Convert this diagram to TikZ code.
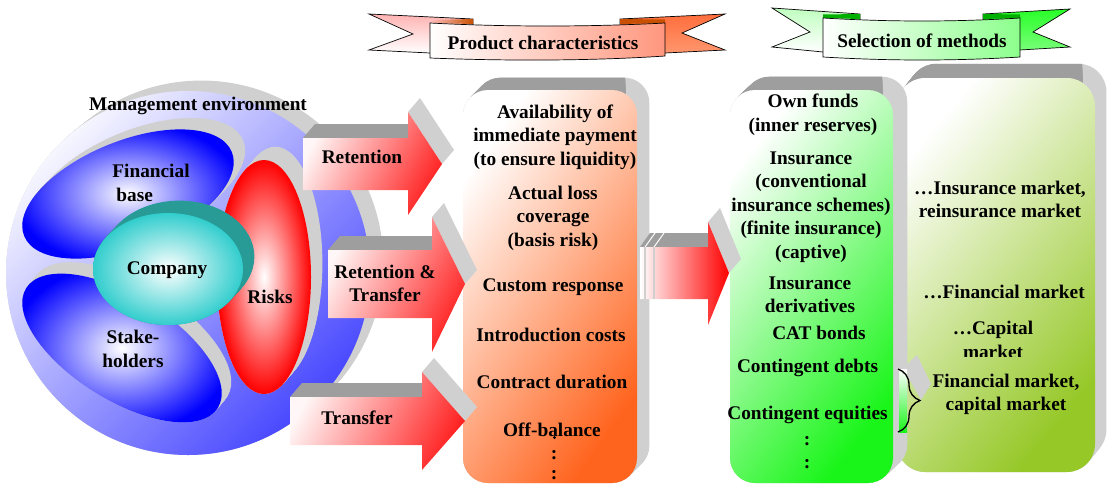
\documentclass[tikz,border=0pt]{standalone}
\usepackage{fontspec}
\setmainfont{Liberation Serif}
\usetikzlibrary{decorations.pathreplacing}
\definecolor{shd}{RGB}{208,208,208}
\definecolor{shdk}{RGB}{158,158,158}
\definecolor{cblue}{RGB}{72,72,255}
\definecolor{cteal}{RGB}{50,205,205}
\definecolor{cteald}{RGB}{40,155,150}
\definecolor{corange}{RGB}{255,100,30}
\definecolor{cgreen}{RGB}{25,245,25}
\definecolor{colive}{RGB}{150,200,40}
\definecolor{darkor}{RGB}{200,80,0}
\definecolor{darkgr}{RGB}{0,175,0}
\definecolor{cred}{RGB}{255,35,35}
% 3D arrow: L, M, T, body top, body bottom, tip y, head top, head bottom
\newcommand{\tdarrow}[8]{%
  \fill[shdk] (#1,#4) -- ({#1+12},{#4-14}) -- ({#2+12},{#4-14}) -- (#2,#4) -- cycle;
  \fill[shd] (#2,#7) -- ({#2+12},{#7-14}) -- ({#3+12},{#6-14}) -- (#3,#6) -- cycle;
  \shade[arrowfill] (#1,#4) -- (#2,#4) -- (#2,#7) -- (#3,#6) -- (#2,#8) -- (#2,#5) -- (#1,#5) -- cycle;}
\begin{document}
\begin{tikzpicture}[x=1pt,y=-1pt,
  txt/.style={font=\fontsize{19.3}{23.5}\selectfont\bfseries, align=center, inner sep=0pt, text=black},
  arrowfill/.style={top color=red!3, bottom color=cred, shading angle=62},
  ribbon/.style={draw=black, line width=0.7pt}]
\useasboundingbox (0,0) rectangle (1107,485);

% ---------- big circle ----------
\foreach \t in {0,0.05,...,1}
  \fill[shd] ({188+14*\t},{273-11*\t}) circle [radius=182pt];
\shade[top color={rgb,255:red,246;green,246;blue,255}, bottom color=cblue, shading angle=45]
  (188,273) circle [radius=182pt];

% ---------- financial base ----------
\foreach \t in {0,0.05,...,1}
  \fill[shd, shift={({128+12*\t},{194-12*\t})}, rotate=22] (0,0) ellipse [x radius=112pt, y radius=53pt];
\shade[inner color=white, outer color=blue, shift={(128,194)}, rotate=22] (0,0) ellipse [x radius=112pt, y radius=53pt];

% ---------- stakeholders ----------
\foreach \t in {0,0.05,...,1}
  \fill[shd, shift={({122+10*\t},{348-12*\t})}, rotate=-32] (0,0) ellipse [x radius=113pt, y radius=52pt];
\shade[inner color=white, outer color=blue, shift={(122,348)}, rotate=-32] (0,0) ellipse [x radius=113pt, y radius=52pt];

% ---------- risks ----------
\foreach \t in {0,0.05,...,1}
  \fill[shd] ({264+12*\t},{277-14*\t}) ellipse [x radius=47pt, y radius=117pt];
\shade[inner color=white, outer color=red] (264,277) ellipse [x radius=47pt, y radius=117pt];

% ---------- company ----------
\foreach \t in {0,0.05,...,1}
  \fill[cteald] ({168+12*\t},{269-13*\t}) ellipse [x radius=75pt, y radius=56pt];
\shade[inner color=white, outer color=cteal] (168,269) ellipse [x radius=75pt, y radius=56pt];

\node[txt] (menv) at (198,106) {Management environment};
\node[txt, align=left] (fbase) at (151,183) {Financial\\\hspace*{4pt}base};
\node[txt] (comp) at (167,270) {Company};
\node[txt] (risks) at (270,297) {Risks};
\node[txt] (stake) at (133,349) {Stake-\\holders};

% ---------- box 3 ----------
\foreach \t in {0,0.05,...,1}
  \fill[shd, rounded corners=28pt] ({897+12*\t},{78-15*\t}) rectangle ({1095+12*\t},{472-15*\t});
\begin{scope}
  \clip (880,55) rectangle (1082,84);
  \foreach \t in {0,0.05,...,1}
    \fill[shdk, rounded corners=28pt] ({897+12*\t},{78-15*\t}) rectangle ({1095+12*\t},{472-15*\t});
\end{scope}
\shade[rounded corners=28pt, top color=white, bottom color=colive, shading angle=50] (897,78) rectangle (1095,472);

% ---------- box 2 ----------
\foreach \t in {0,0.05,...,1}
  \fill[shd, rounded corners=25pt] ({730+15*\t},{90-14*\t}) rectangle ({893+15*\t},{483-14*\t});
\begin{scope}
  \clip (720,68) rectangle (882,96);
  \foreach \t in {0,0.05,...,1}
    \fill[shdk, rounded corners=25pt] ({730+15*\t},{90-14*\t}) rectangle ({893+15*\t},{483-14*\t});
\end{scope}
\shade[rounded corners=25pt, top color=white, bottom color=cgreen, shading angle=52] (730,90) rectangle (893,483);

% ---------- box 1 ----------
\foreach \t in {0,0.05,...,1}
  \fill[shd, rounded corners=25pt] ({463+13*\t},{90-13*\t}) rectangle ({637+13*\t},{483-13*\t});
\begin{scope}
  \clip (450,68) rectangle (625,96);
  \foreach \t in {0,0.05,...,1}
    \fill[shdk, rounded corners=25pt] ({463+13*\t},{90-13*\t}) rectangle ({637+13*\t},{483-13*\t});
\end{scope}
\shade[rounded corners=25pt, top color=white, bottom color=corange, shading angle=55] (463,90) rectangle (637,483);

% ---------- left arrows ----------
\tdarrow{303}{408}{442}{138}{190}{164}{112}{215}
\tdarrow{328}{432}{465}{250}{318}{284}{217}{352}
\tdarrow{290}{422}{465}{397}{445}{421}{372}{470}
\node[txt] (ret) at (362,157) {Retention};
\node[txt] (rt) at (385,283.5) {Retention \&\\Transfer};
\node[txt] (tr) at (357,418) {Transfer};

% ---------- middle arrow ----------
\fill[shdk] (640,247) -- (650,233) -- (718,233) -- (708,247) -- cycle;
\draw[white, line width=1pt] (645,247) -- (655,233) (654,247) -- (664,233);
\fill[shd] (708,222) -- (720,208) -- (741,259) -- (729,273) -- cycle;
\shade[left color=white, right color=red] (640,247) -- (708,247) -- (708,222) -- (729,273) -- (708,325) -- (708,299) -- (640,299) -- cycle;
\draw[shd, line width=1.2pt] (645,247) -- (645,299) (654,247) -- (654,299);

% ---------- brace ----------
\fill[shd] (903,368) -- (917,355) -- (931,384) -- (921,400) -- cycle;
\shade[top color=white, bottom color=cgreen] (899,369) rectangle (907,432);
\draw[line width=1.3pt, decorate, decoration={brace, amplitude=22pt}] (898,369) -- (898,432);

% ---------- banners ----------
% product characteristics
\shade[ribbon, top color=red!30, bottom color=white] (369,14) -- (473,19) -- (473,52) -- (430,53) -- (369,50) -- (413,34) -- cycle;
\shade[ribbon, top color={rgb,255:red,255;green,110;blue,60}, bottom color={rgb,255:red,255;green,150;blue,110}] (620,19) -- (725,14) -- (682,33) -- (725,50) -- (665,53) -- (620,53) -- cycle;
\shade[left color=red!25, right color=darkor] (430,20) -- (473,19) -- (473,24) -- (430,23) -- cycle;
\fill[darkor] (620,19) -- (665,19.5) -- (665,23) -- (620,24) -- cycle;
\shade[ribbon, left color=white, right color={rgb,255:red,255;green,150;blue,125}]
  (430,23) .. controls (505,27) and (590,27) .. (665,23) -- (665,56) .. controls (590,61) and (505,61) .. (430,58) -- cycle;
\node[txt] (pc) at (543,43) {Product characteristics};
% selection of methods
\shade[ribbon, top color=green!25, bottom color=white] (772,8) -- (860,14) -- (860,50) -- (823,52) -- (772,47) -- (810,32) -- cycle;
\shade[ribbon, top color={rgb,255:red,40;green,255;blue,40}, bottom color={rgb,255:red,120;green,255;blue,120}] (983,14) -- (1070,9) -- (1033,32) -- (1070,47) -- (1020,50) -- (983,50) -- cycle;
\fill[darkgr] (823,14.5) -- (860,14) -- (860,19) -- (823,18) -- cycle;
\fill[darkgr] (983,14) -- (1020,14.5) -- (1020,18) -- (983,19) -- cycle;
\shade[ribbon, left color=white, right color={rgb,255:red,140;green,255;blue,140}]
  (823,18) .. controls (890,22) and (955,22) .. (1020,18) -- (1020,57) .. controls (955,61) and (890,61) .. (823,57) -- cycle;
\node[txt] (som) at (922,41) {Selection of methods};

% ---------- box 1 text ----------
\node[txt] (b1a) at (555,137) {Availability of\\immediate payment\\(to ensure liquidity)};
\node[txt] (b1b) at (553,218) {Actual loss\\coverage\\(basis risk)};
\node[txt] (b1c) at (553,287) {Custom response};
\node[txt] (b1d) at (551,335) {Introduction costs};
\node[txt] (b1e) at (552,382) {Contract duration};
\node[txt] (b1f) at (552,430) {Off-balance};
\fill[black] (554.5,437.5) circle [radius=1.7pt];
\node[txt] (b1h) at (554,455) {:};
\node[txt] (b1i) at (554,475) {:};

% ---------- box 2 text ----------
\node[txt] (b2a) at (813,115) {Own funds\\(inner reserves)};
\node[txt] (b2b) at (811,207) {Insurance\\(conventional\\insurance schemes)\\(finite insurance)\\(captive)};
\node[txt] (b2c) at (810,295) {Insurance\\derivatives};
\node[txt] (b2d) at (819,333) {CAT bonds};
\node[txt] (b2e) at (807.5,368) {Contingent debts};
\node[txt] (b2f) at (807.5,415) {Contingent equities};
\node[txt] (b2g) at (807,441) {:};
\node[txt] (b2h) at (807,464) {:};

% ---------- box 3 text ----------
\node[txt] (b3a) at (1000,199.5) {…Insurance market,\\reinsurance market};
\node[txt] (b3b) at (1004,292) {…Financial market};
\node[txt] (b3c) at (993,330) {…Capital};
\begin{scope}
  \clip (940,338) rectangle (1060,356);
  \node[txt] (b3d) at (993,352) {market};
\end{scope}
\node[txt] (b3e) at (1006,394.5) {Financial market,\\capital market};
\end{tikzpicture}
\end{document}
